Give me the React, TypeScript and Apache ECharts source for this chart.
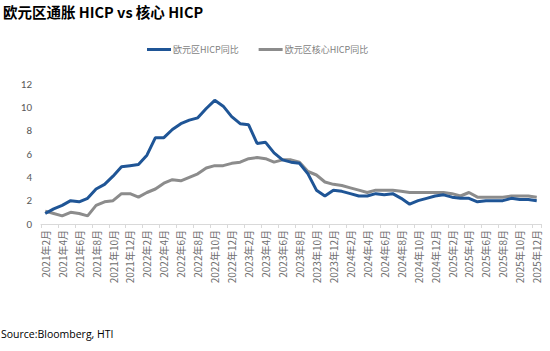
import React, { useEffect, useRef } from "react";
import * as echarts from "echarts";

const years = [2021, 2022, 2023, 2024, 2025];
const categories: string[] = [];
years.forEach((y) => {
  for (let m = 1; m <= 12; m++) {
    if (y === 2021 && m === 1) continue;
    categories.push(`${y}年${m}月`);
  }
});

const hicp = [
  0.9, 1.3, 1.6, 2.0, 1.9, 2.2, 3.0, 3.4, 4.1, 4.9, 5.0,
  5.1, 5.9, 7.4, 7.4, 8.1, 8.6, 8.9, 9.1, 9.9, 10.6, 10.1, 9.2,
  8.6, 8.5, 6.9, 7.0, 6.1, 5.5, 5.3, 5.2, 4.3, 2.9, 2.4, 2.9,
  2.8, 2.6, 2.4, 2.4, 2.6, 2.5, 2.6, 2.2, 1.7, 2.0, 2.2, 2.4,
  2.5, 2.3, 2.2, 2.2, 1.9, 2.0, 2.0, 2.0, 2.2, 2.1, 2.1, 2.0,
];

const coreHicp = [
  1.1, 0.9, 0.7, 1.0, 0.9, 0.7, 1.6, 1.9, 2.0, 2.6, 2.6,
  2.3, 2.7, 3.0, 3.5, 3.8, 3.7, 4.0, 4.3, 4.8, 5.0, 5.0, 5.2,
  5.3, 5.6, 5.7, 5.6, 5.3, 5.5, 5.5, 5.3, 4.5, 4.2, 3.6, 3.4,
  3.3, 3.1, 2.9, 2.7, 2.9, 2.9, 2.9, 2.8, 2.7, 2.7, 2.7, 2.7,
  2.7, 2.6, 2.4, 2.7, 2.3, 2.3, 2.3, 2.3, 2.4, 2.4, 2.4, 2.3,
];

const seriesNames = ["欧元区HICP同比", "欧元区核心HICP同比"];
const colors = ["#1F5596", "#8C8C8C"];

export default function App() {
  const ref = useRef<HTMLDivElement>(null);
  useEffect(() => {
    if (!ref.current) return;
    const chart = echarts.init(ref.current, undefined, { renderer: "svg" });
    chart.setOption({
      animation: false,
      backgroundColor: "#ffffff",
      color: colors,
      title: [
        {
          text: "欧元区通胀 HICP vs 核心 HICP",
          left: 0,
          top: 4,
          padding: [0, 0, 0, 3],
          textStyle: {
            fontFamily: "'Noto Sans CJK SC', sans-serif",
            fontWeight: "bold",
            fontSize: 14.5,
            color: "#000000",
          },
        },
        {
          text: "Source:Bloomberg, HTI",
          left: 0,
          top: 328,
          padding: [0, 0, 0, 1],
          textStyle: {
            fontFamily: "'Open Sans', 'Liberation Sans', sans-serif",
            fontWeight: "normal",
            fontSize: 10.5,
            color: "#000000",
          },
        },
      ],
      legend: {
        top: 40,
        left: 142,
        itemGap: 20,
        itemWidth: 24,
        itemHeight: 3,
        icon: "rect",
        textStyle: {
          fontFamily: "'Noto Sans CJK SC', sans-serif",
          fontSize: 9,
          color: "#7F7F7F",
          padding: [0, 0, 0, -3],
        },
        data: seriesNames,
      },
      grid: {
        left: 41,
        right: 9,
        top: 84,
        bottom: 127,
        containLabel: false,
      },
      xAxis: {
        type: "category",
        data: categories,
        boundaryGap: true,
        axisLine: { show: true, lineStyle: { color: "#D9D9D9", width: 1 } },
        axisTick: { show: true, interval: 1, length: 4, lineStyle: { color: "#D9D9D9" } },
        axisLabel: {
          interval: 1,
          rotate: 90,
          fontSize: 10,
          color: "#6E6E6E",
          fontFamily: "'Noto Sans CJK SC', sans-serif",
          margin: 6,
        },
        splitLine: { show: false },
      },
      yAxis: {
        type: "value",
        min: 0,
        max: 12,
        interval: 2,
        axisLine: { show: false },
        axisTick: { show: false },
        splitLine: { show: false },
        axisLabel: {
          fontSize: 11,
          color: "#595959",
          fontFamily: "Calibri, 'Liberation Sans', sans-serif",
          margin: 9,
        },
      },
      series: [
        {
          name: seriesNames[0],
          type: "line",
          data: hicp,
          symbol: "none",
          lineStyle: { width: 3, color: colors[0] },
          z: 3,
        },
        {
          name: seriesNames[1],
          type: "line",
          data: coreHicp,
          symbol: "none",
          lineStyle: { width: 3, color: colors[1] },
          z: 2,
        },
      ],
    });
    return () => chart.dispose();
  }, []);
  return (
    <div
      ref={ref}
      style={{ position: "fixed", left: 0, top: 0, width: 550, height: 351 }}
    />
  );
}
